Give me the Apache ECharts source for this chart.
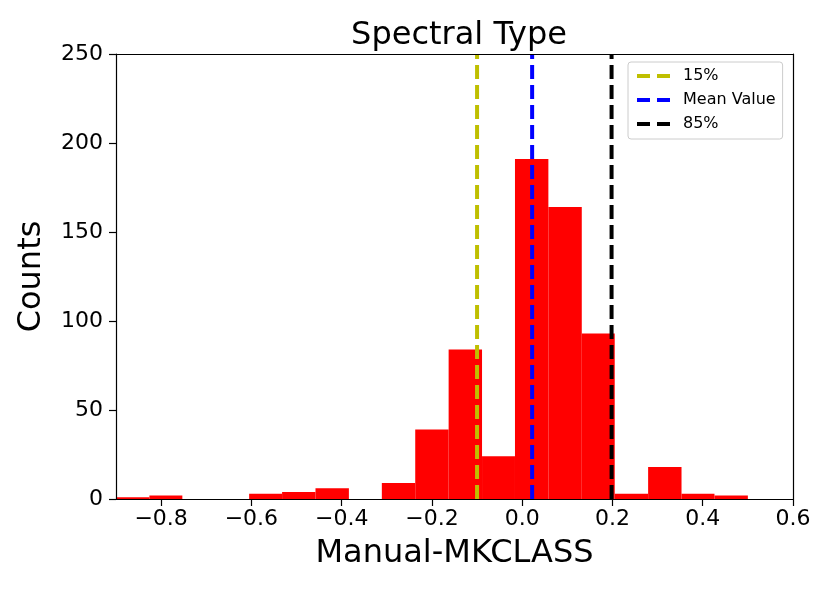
<!DOCTYPE html>
<html>
<head>
<meta charset="utf-8">
<script src="https://cdn.jsdelivr.net/npm/echarts@6/dist/echarts.min.js"></script>
<style>
  html, body { margin: 0; padding: 0; background: #fff; }
  #hist { width: 830px; height: 593px; }
</style>
</head>
<body>
<div id="hist"></div>
<script>
// bin edges of the histogram (Manual - MKCLASS)
var binEdges = [-0.9, -0.826, -0.753, -0.679, -0.605, -0.532, -0.458, -0.384, -0.311, -0.237,
                -0.163, -0.089, -0.016, 0.058, 0.132, 0.205, 0.279, 0.353, 0.426, 0.5];
// counts per bin
var binCounts = [1, 2, 0, 0, 3, 4, 6, 0, 9, 39, 84, 24, 191, 164, 93, 3, 18, 3, 2];
// vertical reference lines
var p15 = -0.1;
var meanValue = 0.022;
var p85 = 0.198;
var xTicks = [-0.8, -0.6, -0.4, -0.2, 0.0, 0.2, 0.4, 0.6];
var yTicks = [0, 50, 100, 150, 200, 250];

var chart = echarts.init(document.getElementById('hist'));

var bars = [];
for (var i = 0; i < binCounts.length; i++) {
    bars.push([binEdges[i], binEdges[i + 1], binCounts[i]]);
}

function fmtX(v) {
    var s = Math.abs(v).toFixed(1);
    return v < -1e-9 ? '\u2212' + s : s;
}

function vline(name, x, color) {
    return {
        name: name,
        type: 'line',
        data: [[x, 0], [x, 250]],
        symbol: 'none',
        showSymbol: false,
        silent: true,
        z: 5,
        itemStyle: { color: color },
        lineStyle: { color: color, width: 4, type: [14, 6] }
    };
}

var font = 'DejaVu Sans';

chart.setOption({
    animation: false,
    backgroundColor: '#fff',
    title: {
        text: 'Spectral Type',
        left: 454,
        textAlign: 'center',
        top: 15,
        textStyle: { fontFamily: font, fontSize: 32, fontWeight: 'normal', color: '#000' }
    },
    grid: { left: 116, right: 37, top: 54, bottom: 94 },
    legend: {
        orient: 'vertical',
        left: 628,
        top: 62,
        padding: [6, 7, 7, 7],
        itemWidth: 33,
        itemHeight: 16,
        itemGap: 8,
        backgroundColor: 'rgba(255,255,255,0.8)',
        borderColor: '#cccccc',
        borderWidth: 1,
        borderRadius: 3,
        itemStyle: { opacity: 0 },
        lineStyle: { width: 4, type: [13, 7] },
        textStyle: { fontFamily: font, fontSize: 16, color: '#000', padding: [0, 0, 0, 8] },
        data: ['15%', 'Mean Value', '85%']
    },
    xAxis: [{
        type: 'value',
        min: -0.9,
        max: 0.6,
        z: 10,
        name: 'Manual-MKCLASS',
        nameLocation: 'middle',
        nameGap: 39,
        nameTextStyle: { fontFamily: font, fontSize: 32, color: '#000' },
        axisLine: { onZero: false, lineStyle: { color: '#000', width: 1.2 } },
        axisTick: { show: true, inside: false, length: 7, lineStyle: { color: '#000', width: 1.2 }, customValues: xTicks },
        axisLabel: { fontFamily: font, fontSize: 22, color: '#000', margin: 9, formatter: fmtX, customValues: xTicks },
        splitLine: { show: false }
    }, {
        type: 'value',
        position: 'top',
        min: -0.9,
        max: 0.6,
        z: 10,
        axisLine: { show: true, onZero: false, lineStyle: { color: '#000', width: 1.2 } },
        axisTick: { show: false },
        axisLabel: { show: false },
        splitLine: { show: false }
    }],
    yAxis: [{
        type: 'value',
        min: 0,
        max: 250,
        interval: 50,
        z: 10,
        name: 'Counts',
        nameLocation: 'middle',
        nameGap: 68,
        nameTextStyle: { fontFamily: font, fontSize: 32, color: '#000' },
        axisLine: { show: true, onZero: false, lineStyle: { color: '#000', width: 1.2 } },
        axisTick: { show: true, inside: false, length: 7, lineStyle: { color: '#000', width: 1.2 }, customValues: yTicks },
        axisLabel: { fontFamily: font, fontSize: 22, color: '#000', margin: 13, customValues: yTicks },
        splitLine: { show: false }
    }, {
        type: 'value',
        position: 'right',
        min: 0,
        max: 250,
        interval: 50,
        z: 10,
        axisLine: { show: true, onZero: false, lineStyle: { color: '#000', width: 1.2 } },
        axisTick: { show: false },
        axisLabel: { show: false },
        splitLine: { show: false }
    }],
    series: [{
        name: 'hist',
        type: 'custom',
        silent: true,
        z: 2,
        data: bars,
        encode: { x: [0, 1], y: 2 },
        renderItem: function (params, api) {
            var p0 = api.coord([api.value(0), api.value(2)]);
            var p1 = api.coord([api.value(1), 0]);
            return {
                type: 'rect',
                shape: { x: p0[0], y: p0[1], width: p1[0] - p0[0], height: p1[1] - p0[1] },
                style: { fill: '#ff0000' }
            };
        }
    },
        vline('15%', p15, '#bfbf00'),
        vline('Mean Value', meanValue, '#0000ff'),
        vline('85%', p85, '#000000')
    ]
});
</script>
</body>
</html>
